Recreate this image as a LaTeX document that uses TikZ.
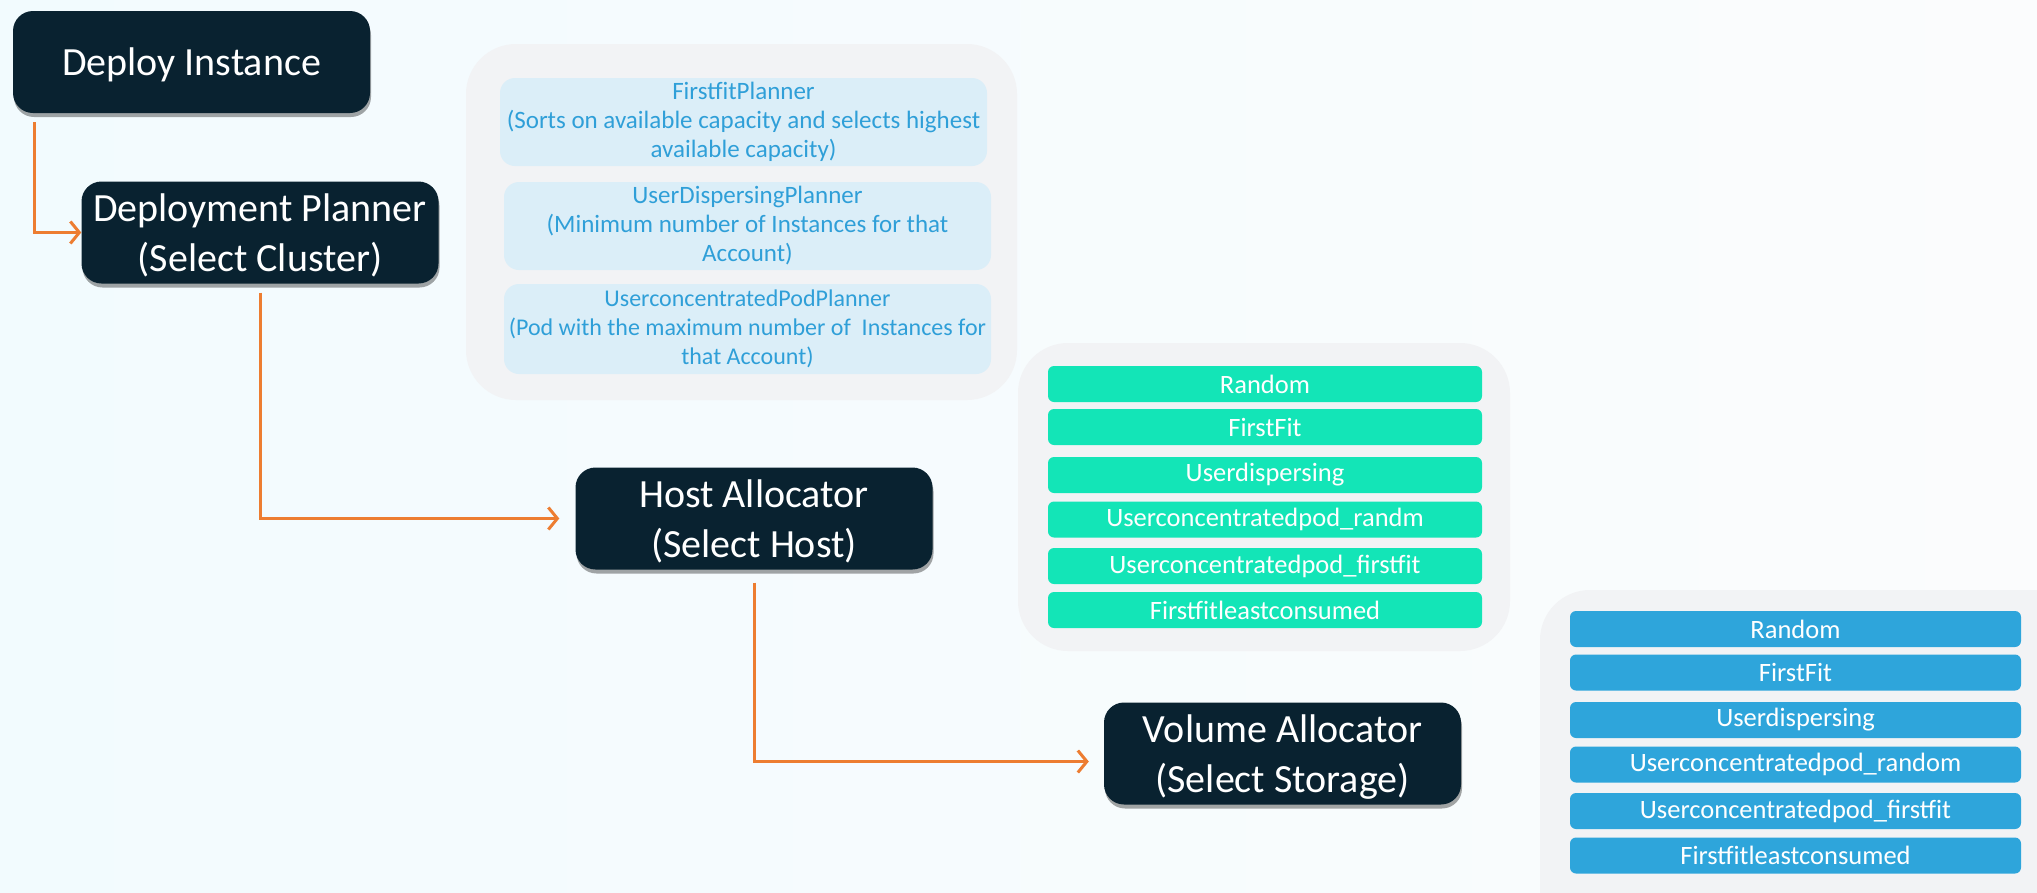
\documentclass[tikz,border=0pt]{standalone}
\usepackage{fontspec}
\setmainfont{Carlito}
\usetikzlibrary{arrows.meta,shadows}

\definecolor{bgL}{HTML}{F2FBFE}
\definecolor{bgR}{HTML}{FBFCFD}
\definecolor{navy}{HTML}{092230}
\definecolor{flow}{HTML}{ED7D31}
\definecolor{panelgrey}{HTML}{F2F3F5}
\definecolor{paleblue}{HTML}{DBEEF8}
\definecolor{planblue}{HTML}{2F9FD8}
\definecolor{teal}{HTML}{13E5B7}
\definecolor{storeblue}{HTML}{2EA5DB}

\tikzset{
  stage/.style={rectangle, rounded corners=20pt, fill=navy, text=white,
    minimum width=357pt, minimum height=102pt, align=center, inner sep=0pt,
    text depth=0pt, font=\fontsize{40}{50}\selectfont,
    drop shadow={shadow xshift=1pt, shadow yshift=-4pt, opacity=0.35, fill=black}},
  panel/.style={fill=panelgrey, rounded corners=50pt},
  planbox/.style={rectangle, rounded corners=15pt, fill=paleblue, text=planblue,
    minimum width=487pt, minimum height=88pt, align=center, inner sep=0pt,
    font=\fontsize{25}{29}\selectfont},
  hostbox/.style={rectangle, rounded corners=6pt, fill=teal, text=white,
    minimum width=434pt, minimum height=36pt, inner sep=0pt,
    font=\fontsize{26.5}{30}\selectfont},
  storebox/.style={rectangle, rounded corners=6pt, fill=storeblue, text=white,
    minimum width=451pt, minimum height=36pt, inner sep=0pt,
    font=\fontsize{26.5}{30}\selectfont},
  conn/.style={draw=flow, line width=3pt,
    -{Straight Barb[length=9pt,width=22pt]}}
}

\begin{document}
\begin{tikzpicture}[x=1pt, y=-1pt]
  \useasboundingbox (0,0) rectangle (2037,892);
  \clip (0,0) rectangle (2037,892);
  \shade[left color=bgL, right color=bgR] (0,0) rectangle (2037,892);

  % option panels
  \fill[panel] (466,44) rectangle (1017,400);
  \fill[panel] (1018,343) rectangle (1510,651);
  \fill[panel] (1540,590) rectangle (2085,960);

  % planners
  \node[planbox] (p1) at (743.5,122) {FirstfitPlanner\\(Sorts on available capacity and selects highest\\available capacity)};
  \node[planbox] (p2) at (747.5,226) {UserDispersingPlanner\\(Minimum number of Instances for that\\Account)};
  \node[planbox, minimum height=90pt, font=\fontsize{24}{29}\selectfont] (p3) at (747.5,329) {UserconcentratedPodPlanner\\(Pod with the maximum number of\ \ Instances for\\that Account)};

  % host allocators
  \node[hostbox] (h1) at (1265,384) {Random};
  \node[hostbox] (h2) at (1265,427) {FirstFit};
  \node[hostbox] (h3) at (1265,475) {Userdispersing};
  \node[hostbox] (h4) at (1265,519.5) {Userconcentratedpod\_randm};
  \node[hostbox] (h5) at (1265,566) {Userconcentratedpod\_firstfit};
  \node[hostbox] (h6) at (1265,610) {Firstfitleastconsumed};

  % storage allocators
  \node[storebox] (s1) at (1795.5,629) {Random};
  \node[storebox] (s2) at (1795.5,672.5) {FirstFit};
  \node[storebox] (s3) at (1795.5,720) {Userdispersing};
  \node[storebox] (s4) at (1795.5,764.5) {Userconcentratedpod\_random};
  \node[storebox] (s5) at (1795.5,811) {Userconcentratedpod\_firstfit};
  \node[storebox] (s6) at (1795.5,855.5) {Firstfitleastconsumed};

  % flow stages
  \node[stage] (di) at (191.5,62) {Deploy Instance};
  \node[stage] (dp) at (260,232.5) {Deployment Planner\\(Select Cluster)};
  \node[stage] (ha) at (754,518.5) {Host Allocator\\(Select Host)};
  \node[stage] (va) at (1282.5,753.5) {Volume Allocator\\(Select Storage)};

  % connectors
  \draw[conn] ([xshift=22pt,yshift=-9pt]di.south west) |- (dp.west);
  \draw[conn, shorten >=16pt] ([yshift=-9pt]dp.south) |- (ha.west);
  \draw[conn, shorten >=15pt] ([yshift=-13pt]ha.south) |- ([yshift=-8pt]va.west);
\end{tikzpicture}
\end{document}
